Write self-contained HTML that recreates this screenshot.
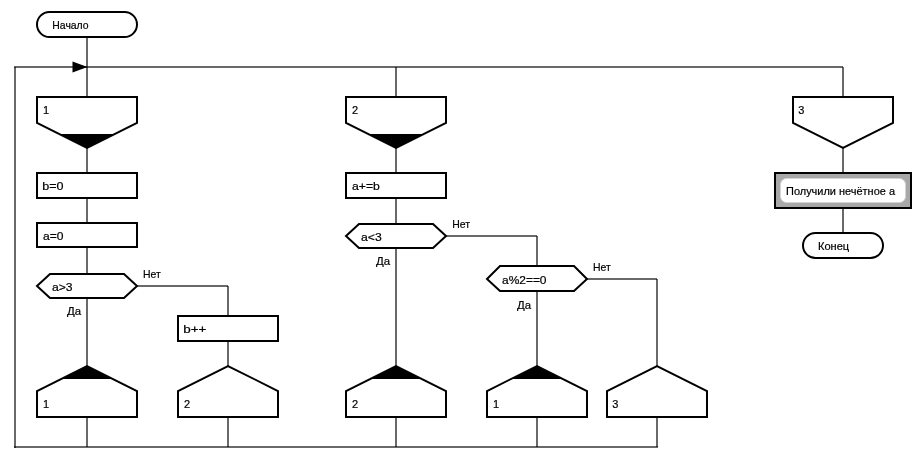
<!DOCTYPE html>
<html><head><meta charset="utf-8"><style>
html,body{margin:0;padding:0;background:#fff;}
svg{display:block;will-change:transform;}
text{font-family:"Liberation Sans",sans-serif;font-size:11px;fill:#000;stroke:#000;stroke-width:0.2px;}
</style></head><body>
<svg width="921" height="464" viewBox="0 0 921 464">
<line x1="87" y1="37" x2="87" y2="97" stroke="#000" stroke-opacity="0.59" stroke-width="2"/>
<polygon points="72.5,61.4 87.5,67 72.5,72.6" fill="#000"/>
<line x1="14" y1="67" x2="843" y2="67" stroke="#000" stroke-opacity="0.59" stroke-width="2"/>
<line x1="15" y1="67" x2="15" y2="448" stroke="#000" stroke-opacity="0.59" stroke-width="2"/>
<line x1="14" y1="447" x2="658" y2="447" stroke="#000" stroke-opacity="0.59" stroke-width="2"/>
<line x1="87" y1="148" x2="87" y2="447" stroke="#000" stroke-opacity="0.59" stroke-width="2"/>
<line x1="396" y1="67" x2="396" y2="447" stroke="#000" stroke-opacity="0.59" stroke-width="2"/>
<line x1="843" y1="67" x2="843" y2="233" stroke="#000" stroke-opacity="0.59" stroke-width="2"/>
<line x1="137" y1="286" x2="228" y2="286" stroke="#000" stroke-opacity="0.59" stroke-width="2"/>
<line x1="228" y1="286" x2="228" y2="447" stroke="#000" stroke-opacity="0.59" stroke-width="2"/>
<line x1="446" y1="236" x2="537" y2="236" stroke="#000" stroke-opacity="0.59" stroke-width="2"/>
<line x1="537" y1="236" x2="537" y2="447" stroke="#000" stroke-opacity="0.59" stroke-width="2"/>
<line x1="587" y1="279" x2="657" y2="279" stroke="#000" stroke-opacity="0.59" stroke-width="2"/>
<line x1="657" y1="279" x2="657" y2="447" stroke="#000" stroke-opacity="0.59" stroke-width="2"/>
<rect x="37" y="12" width="100" height="25" rx="12.5" ry="12.5" fill="#fff" stroke="#000" stroke-width="2"/>
<text x="52.3" y="29" textLength="36.3" lengthAdjust="spacingAndGlyphs">Начало</text>
<polygon points="37,97 137,97 137,123 87,148 37,123" fill="#fff" stroke="#000" stroke-width="2"/>
<polygon points="59,134 115,134 87,148" fill="#000"/>
<text x="43" y="114">1</text>
<rect x="37" y="173" width="100" height="25" fill="#fff" stroke="#000" stroke-width="2"/>
<text x="42.3" y="190" textLength="21.3" lengthAdjust="spacingAndGlyphs">b=0</text>
<rect x="37" y="223" width="100" height="24" fill="#fff" stroke="#000" stroke-width="2"/>
<text x="43" y="240" textLength="20.5" lengthAdjust="spacingAndGlyphs">a=0</text>
<polygon points="37,286 50,274 124,274 137,286 124,298 50,298" fill="#fff" stroke="#000" stroke-width="2"/>
<text x="52" y="291" textLength="20.6" lengthAdjust="spacingAndGlyphs">a&gt;3</text>
<text x="143" y="278" textLength="17.8" lengthAdjust="spacingAndGlyphs">Нет</text>
<text x="67" y="315" textLength="14.1" lengthAdjust="spacingAndGlyphs">Да</text>
<rect x="178" y="316" width="100" height="25" fill="#fff" stroke="#000" stroke-width="2"/>
<text x="183.2" y="333" textLength="23.2" lengthAdjust="spacingAndGlyphs">b++</text>
<polygon points="37,417 37,391 87,366 137,391 137,417" fill="#fff" stroke="#000" stroke-width="2"/>
<polygon points="61,379 113,379 87,366" fill="#000"/>
<text x="43" y="408">1</text>
<polygon points="178,417 178,391 228,366 278,391 278,417" fill="#fff" stroke="#000" stroke-width="2"/>
<text x="184" y="408">2</text>
<polygon points="346,97 446,97 446,123 396,148 346,123" fill="#fff" stroke="#000" stroke-width="2"/>
<polygon points="368,134 424,134 396,148" fill="#000"/>
<text x="352" y="114">2</text>
<rect x="346" y="173" width="100" height="25" fill="#fff" stroke="#000" stroke-width="2"/>
<text x="352" y="190" textLength="27.8" lengthAdjust="spacingAndGlyphs">a+=b</text>
<polygon points="346,236 359,224 433,224 446,236 433,248 359,248" fill="#fff" stroke="#000" stroke-width="2"/>
<text x="361" y="241" textLength="20.7" lengthAdjust="spacingAndGlyphs">a&lt;3</text>
<text x="452.2" y="228" textLength="17.8" lengthAdjust="spacingAndGlyphs">Нет</text>
<text x="376" y="265" textLength="14.1" lengthAdjust="spacingAndGlyphs">Да</text>
<polygon points="487,279 500,266 574,266 587,279 574,291 500,291" fill="#fff" stroke="#000" stroke-width="2"/>
<text x="502" y="283.5" textLength="44.5" lengthAdjust="spacingAndGlyphs">a%2==0</text>
<text x="593" y="271" textLength="17.8" lengthAdjust="spacingAndGlyphs">Нет</text>
<text x="517" y="308.7" textLength="14.1" lengthAdjust="spacingAndGlyphs">Да</text>
<polygon points="346,417 346,391 396,366 446,391 446,417" fill="#fff" stroke="#000" stroke-width="2"/>
<polygon points="370,379 422,379 396,366" fill="#000"/>
<text x="352" y="408">2</text>
<polygon points="487,417 487,391 537,366 587,391 587,417" fill="#fff" stroke="#000" stroke-width="2"/>
<polygon points="511,379 563,379 537,366" fill="#000"/>
<text x="493" y="408">1</text>
<polygon points="607,417 607,391 657,366 707,391 707,417" fill="#fff" stroke="#000" stroke-width="2"/>
<text x="612.3" y="408">3</text>
<polygon points="793,97 893,97 893,123 843,148 793,123" fill="#fff" stroke="#000" stroke-width="2"/>
<text x="798.3" y="114">3</text>
<rect x="775" y="173" width="136" height="35" fill="#a8a8a8" stroke="#000" stroke-width="2"/>
<rect x="780.5" y="178.5" width="125" height="24" rx="6" ry="6" fill="#fff" stroke="#d4d4d4" stroke-width="1"/>
<text x="786" y="195" textLength="109" lengthAdjust="spacingAndGlyphs">Получили нечётное а</text>
<rect x="803" y="233" width="80" height="25" rx="12.5" ry="12.5" fill="#fff" stroke="#000" stroke-width="2"/>
<text x="818" y="250" textLength="31.2" lengthAdjust="spacingAndGlyphs">Конец</text>
</svg>
</body></html>
